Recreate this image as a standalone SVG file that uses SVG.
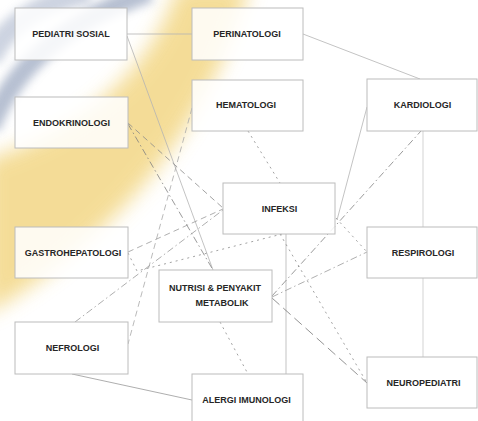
<svg xmlns="http://www.w3.org/2000/svg" width="478" height="421" viewBox="0 0 478 421">
<defs>
<filter id="blur" x="-50%" y="-50%" width="200%" height="200%"><feGaussianBlur stdDeviation="10"/></filter>
<filter id="blur2" x="-50%" y="-50%" width="200%" height="200%"><feGaussianBlur stdDeviation="5"/></filter>
<style>
.box{fill:#fff;fill-opacity:0.86;stroke:#bcbcbc;stroke-width:1}
.lbl{font-family:"Liberation Sans",Arial,sans-serif;font-weight:bold;font-size:9px;fill:#262626;text-anchor:middle}
.c{fill:none;stroke-width:0.8}
.solid{stroke:#b4b4b4}
.dash{stroke:#8a8a8a;stroke-dasharray:6 4}
.dot{stroke:#8a8a8a;stroke-dasharray:2 4}
.dd{stroke:#808080;stroke-dasharray:7 3 1.5 3}
.long{stroke:#777;stroke-dasharray:10 5}
</style>
</defs>
<rect width="478" height="421" fill="#fff"/>
<g id="background">
<path d="M250,-15 Q190,195 -15,315 L-15,160 Q140,110 178,-15 Z" fill="#f3d785" filter="url(#blur)" opacity="0.85"/>
<path d="M-10,128 Q25,35 150,-8" stroke="#9eaac2" stroke-width="20" fill="none" filter="url(#blur2)" opacity="0.75"/>
<path d="M-10,60 Q10,10 90,-8" stroke="#b8c1d4" stroke-width="22" fill="none" filter="url(#blur2)" opacity="0.7"/>
</g>
<g id="connectors">
<path class="c solid" d="M127,34 H192"/>
<path class="c solid" d="M303,34 L420,79"/>
<path class="c solid" d="M127,36 L213,270"/>
<path class="c dash" d="M128,123 L223,208"/>
<path class="c dd" d="M128,124 L213,270"/>
<path class="c dot" d="M248,131 L280,183"/>
<path class="c dash" d="M192,108 L128,344" style="stroke:#a8a8a8"/>
<path class="c dash" d="M128,252 L223,209" style="stroke:#9a9a9a"/>
<path class="c dot" d="M128,253 L137,271 L282,234"/>
<path class="c dd" d="M75,322 L223,210" style="stroke:#999"/>
<path class="c solid" d="M72,374 L192,400" style="stroke:#999"/>
<path class="c dot" d="M220,322 L248,374"/>
<path class="c solid" d="M286,234 V374"/>
<path class="c dot" d="M280,234 L367,383"/>
<path class="c long" d="M272,298 L367,383"/>
<path class="c dd" d="M272,297 L367,252" style="stroke:#9a9a9a"/>
<path class="c dd" d="M272,296 L421,131"/>
<path class="c dot" d="M336,218 L367,252"/>
<path class="c solid" d="M367,107 L337,220"/>
<path class="c solid" d="M423,131 V227" style="stroke:#c8c8c8"/>
<path class="c solid" d="M423,278 V357" style="stroke:#c8c8c8"/>
</g>
<g id="pediatri-sosial"><rect class="box" x="15" y="8" width="112" height="52"/><text class="lbl" x="71" y="37.3">PEDIATRI SOSIAL</text></g>
<g id="perinatologi"><rect class="box" x="192" y="8" width="111" height="52"/><text class="lbl" x="247" y="37.3">PERINATOLOGI</text></g>
<g id="endokrinologi"><rect class="box" x="15" y="97" width="113" height="51"/><text class="lbl" x="71.5" y="126.3">ENDOKRINOLOGI</text></g>
<g id="hematologi"><rect class="box" x="192" y="80" width="111" height="51"/><text class="lbl" x="246" y="108.3">HEMATOLOGI</text></g>
<g id="kardiologi"><rect class="box" x="367" y="79" width="110" height="52"/><text class="lbl" x="422.5" y="108.3">KARDIOLOGI</text></g>
<g id="infeksi"><rect class="box" x="223" y="183" width="112" height="51"/><text class="lbl" x="279.5" y="212.3">INFEKSI</text></g>
<g id="gastrohepatologi"><rect class="box" x="15" y="227" width="113" height="51"/><text class="lbl" x="73" y="256.3">GASTROHEPATOLOGI</text></g>
<g id="respirologi"><rect class="box" x="367" y="227" width="110" height="51"/><text class="lbl" x="423" y="256.3">RESPIROLOGI</text></g>
<g id="nutrisi"><rect class="box" x="159" y="270" width="113" height="52"/><text class="lbl" x="215" y="291.3">NUTRISI &amp; PENYAKIT</text><text class="lbl" x="222" y="306.3">METABOLIK</text></g>
<g id="nefrologi"><rect class="box" x="15" y="322" width="113" height="52"/><text class="lbl" x="72.5" y="351.3">NEFROLOGI</text></g>
<g id="alergi-imunologi"><rect class="box" x="192" y="374" width="111" height="52"/><text class="lbl" x="246.5" y="403.3">ALERGI IMUNOLOGI</text></g>
<g id="neuropediatri"><rect class="box" x="367" y="357" width="110" height="51"/><text class="lbl" x="423.5" y="386.3">NEUROPEDIATRI</text></g>
</svg>
